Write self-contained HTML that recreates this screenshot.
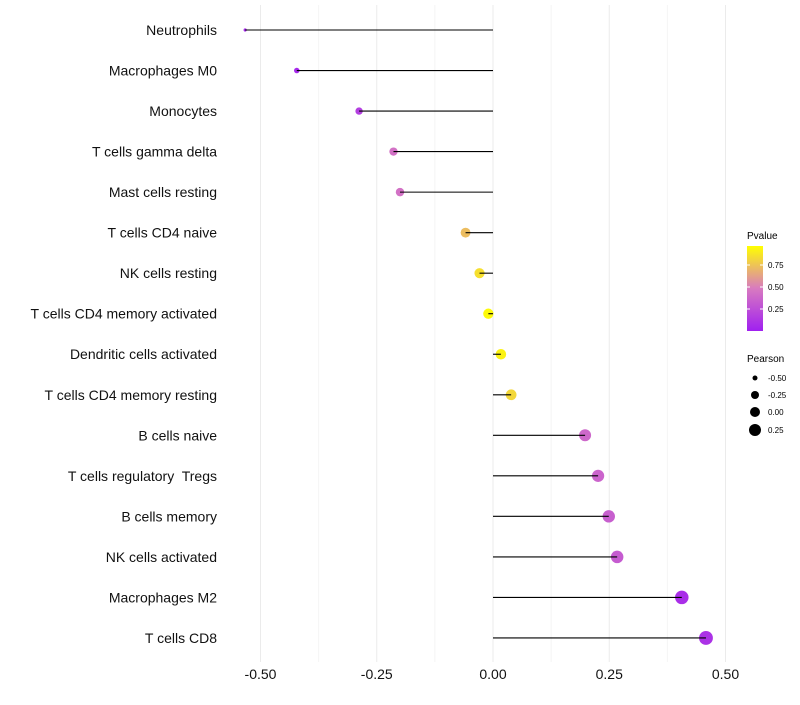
<!DOCTYPE html>
<html><head><meta charset="utf-8"><style>
body{margin:0;background:#fff;font-family:"Liberation Sans",sans-serif;}
text{white-space:pre;}
</style></head><body>
<svg id="c" width="800" height="700" xmlns="http://www.w3.org/2000/svg" font-family="Liberation Sans, sans-serif">
<defs><linearGradient id="pg" x1="0" y1="1" x2="0" y2="0">
<stop offset="0" stop-color="#A020F0"/><stop offset="0.5" stop-color="#D87AC0"/><stop offset="1" stop-color="#FFFF00"/></linearGradient></defs>
<g id="grid"></g>
<g id="marks"></g>
<g id="ylab"></g>
<g id="xlab"></g>
<g>
<text x="747" y="239" font-size="10">Pvalue</text>
<rect x="747" y="246" width="16" height="85" fill="url(#pg)"/>
<g font-size="8">
<text x="768" y="268">0.75</text>
<text x="768" y="290">0.50</text>
<text x="768" y="312">0.25</text></g>
<g stroke="#fff" stroke-width="1"><line x1="747" y1="265" x2="750" y2="265"/><line x1="760" y1="265" x2="763" y2="265"/><line x1="747" y1="287" x2="750" y2="287"/><line x1="760" y1="287" x2="763" y2="287"/><line x1="747" y1="309" x2="750" y2="309"/><line x1="760" y1="309" x2="763" y2="309"/></g>
</g>
<g>
<text x="747" y="362" font-size="10">Pearson</text>
<circle cx="755" cy="378" r="2.5"/>
<circle cx="755" cy="395" r="4"/>
<circle cx="755" cy="412" r="5"/>
<circle cx="755" cy="430" r="6"/>
<g font-size="8"><text x="768" y="381">-0.50</text>
<text x="768" y="398">-0.25</text>
<text x="768" y="415">0.00</text>
<text x="768" y="433">0.25</text></g>
</g>
</svg>
<script>
const categories=["Neutrophils","Macrophages M0","Monocytes","T cells gamma delta","Mast cells resting","T cells CD4 naive","NK cells resting","T cells CD4 memory activated","Dendritic cells activated","T cells CD4 memory resting","B cells naive","T cells regulatory  Tregs","B cells memory","NK cells activated","Macrophages M2","T cells CD8"];
const pearson=[-0.533,-0.422,-0.288,-0.214,-0.200,-0.059,-0.029,-0.010,0.017,0.039,0.198,0.226,0.249,0.267,0.406,0.458];
const pvalue=[0.05,0.05,0.17,0.45,0.45,0.75,0.88,0.98,0.95,0.85,0.4,0.38,0.35,0.33,0.08,0.1];
const xTicks=[-0.5,-0.25,0,0.25,0.5];
const xTickLabels=["-0.50","-0.25","0.00","0.25","0.50"];
const NS="http://www.w3.org/2000/svg";
const x=v=>493+v*465;
const y=i=>30+i*40.53;
const r=v=>Math.sqrt(Math.max(2,27+46*v));
function lerp(a,b,t){return Math.round(a+(b-a)*t);}
function col(p){const s=[[160,32,240],[216,122,192],[255,255,0]];let t=Math.min(1,Math.max(0,p))*2;let k=t>=1?1:0;t-=k;const a=s[k],b=s[k+1];return `rgb(${lerp(a[0],b[0],t)},${lerp(a[1],b[1],t)},${lerp(a[2],b[2],t)})`;}
function mk(tag,at,parent){const e=document.createElementNS(NS,tag);for(const k in at)e.setAttribute(k,at[k]);document.getElementById(parent).appendChild(e);return e;}
for(let v=-0.5;v<=0.5001;v+=0.125){const g=mk('line',{x1:x(v),x2:x(v),y1:5,y2:662,stroke:Math.abs((v*4)%1)<1e-6?'#ebebeb':'#f4f4f4','stroke-width':1},'grid');

}
xTicks.forEach((v,i)=>{const t=mk('text',{x:x(v),y:679,'font-size':14,'text-anchor':'middle',fill:'#111'},'xlab');t.textContent=xTickLabels[i];

});
categories.forEach((c,i)=>{
const t=mk('text',{x:217,y:y(i)+5,'font-size':14,'text-anchor':'end',fill:'#111'},'ylab');t.textContent=c;


const c1=mk('circle',{cx:x(pearson[i]),cy:y(i),r:r(pearson[i]),fill:col(pvalue[i])},'marks');


const l=mk('line',{x1:x(0),x2:x(pearson[i]),y1:y(i),y2:y(i),stroke:'#000','stroke-width':1.1},'marks');


});
</script>
</body></html>
